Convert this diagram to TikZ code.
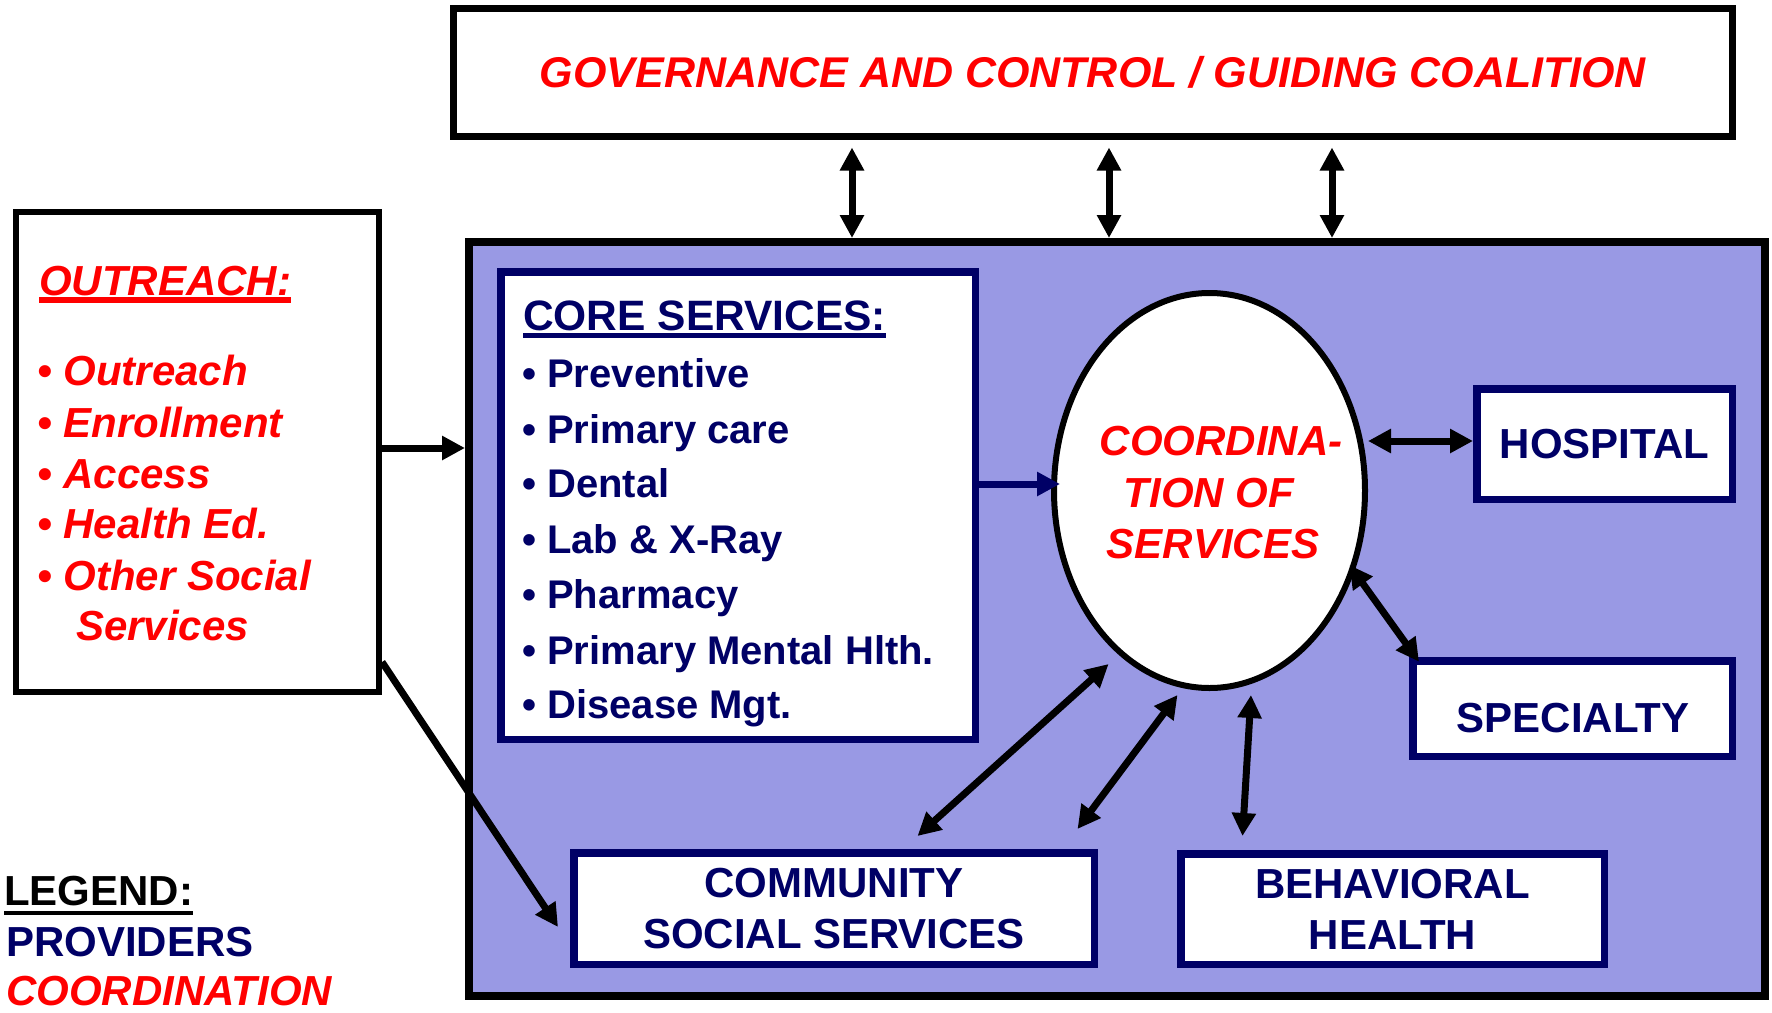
\documentclass[tikz,border=0pt]{standalone}
\usepackage{fontspec}
\setmainfont{Liberation Sans}
\usetikzlibrary{arrows.meta,shapes.geometric}

\definecolor{navy}{RGB}{0,0,102}
\definecolor{lav}{RGB}{153,153,228}
\definecolor{hred}{RGB}{255,0,0}

% text with a heavy underline: #1 rule offset, #2 rule thickness, #3 text
\newcommand\ulined[3]{\setbox0=\hbox{#3}\rlap{\rule[#1]{\wd0}{#2}}\box0}
\newcommand\bigbf{\bfseries\fontsize{42}{51}\selectfont}
\newcommand\bigit{\bfseries\itshape\fontsize{42}{51}\selectfont}

\begin{document}
\begin{tikzpicture}[x=1pt,y=-1pt,
  outline/.style={draw=black,line width=7pt,fill=white,inner sep=0pt},
  prov/.style={draw=navy,line width=7.5pt,fill=white,inner sep=0pt,text=navy,align=center,font=\bigbf},
  txt/.style={inner sep=0pt,anchor=base west},
  ctxt/.style={inner sep=0pt,anchor=base},
  dbl/.style={{Triangle[length=23pt,width=23pt]}-{Triangle[length=23pt,width=23pt]},line width=7pt},
  one/.style={-{Triangle[length=23pt,width=23pt]},line width=7pt},
]
\useasboundingbox (0,0) rectangle (1772,1012);
\fill[white] (0,0) rectangle (1772,1012);

% governing body
\node[outline,minimum width=1279pt,minimum height=128pt,text=hred,
      font=\bfseries\itshape\fontsize{43}{51}\selectfont] (gov) at (1093,72.5)
      {GOVERNANCE AND CONTROL / GUIDING COALITION};

% service network
\node[draw=black,line width=8pt,fill=lav,minimum width=1296pt,minimum height=754pt,inner sep=0pt] (main) at (1117,619) {};

% outreach panel
\node[outline,line width=6pt,minimum width=363pt,minimum height=480pt] (out) at (197.5,452) {};
\node[txt,text=hred,font=\bigit] (ohead) at (39,295) {\ulined{-8pt}{6pt}{OUTREACH:}};
\foreach \t/\y [count=\i] in {Outreach/385,Enrollment/437,Access/488,Health Ed./538,Other Social/590}
  \node[txt,text=hred,font=\bigit] (oi\i) at (37,\y) {• \t};
\node[txt,text=hred,font=\bigit] (oi6) at (76,640) {Services};

% core services
\node[prov,minimum width=474.5pt,minimum height=467.5pt] (core) at (738,505.5) {};
\node[txt,text=navy,font=\bfseries\fontsize{42.5}{51}\selectfont] (chead) at (523,330)
  {\ulined{-8pt}{5pt}{CORE SERVICES:}};
\foreach \t/\y [count=\i] in {Preventive/387,Primary care/443,Dental/497,Lab \& X-Ray/553,
    Pharmacy/608,Primary Mental Hlth./664,Disease Mgt./718}
  \node[txt,text=navy,font=\bfseries\fontsize{40}{51}\selectfont] (ci\i) at (522,\y) {• \t};

% coordination hub
\node[ellipse,draw=black,line width=6pt,fill=white,minimum width=311pt,minimum height=395pt,inner sep=0pt] (ell) at (1209.5,490.5) {};
\node[ctxt,text=hred,font=\bigit] (e1) at (1221,455) {COORDINA-};
\node[ctxt,text=hred,font=\bigit] (e2) at (1209,507) {TION OF};
\node[ctxt,text=hred,font=\bigit] (e3) at (1213,558) {SERVICES};

% providers
\node[prov,minimum width=255.5pt,minimum height=110.5pt] (hosp) at (1604.5,444) {HOSPITAL};
\node[prov,minimum width=319.5pt,minimum height=95.5pt] (spec) at (1572.5,708.5) {};
\node[ctxt,text=navy,font=\bigbf] (spectxt) at (1573,732) {SPECIALTY};
\node[prov,minimum width=520.5pt,minimum height=111.5pt] (comm) at (834,908.5) {COMMUNITY\\SOCIAL SERVICES};
\node[prov,minimum width=423.5pt,minimum height=110.5pt] (beh) at (1392.5,909) {BEHAVIORAL\\HEALTH};

% legend
\node[txt,font=\bigbf] (leg) at (4,905) {\ulined{-10pt}{4pt}{LEGEND:}};
\node[txt,text=navy,font=\bigbf] (legp) at (6,956) {PROVIDERS};
\node[txt,text=hred,font=\bigit] (legc) at (6,1005) {COORDINATION};

% governance links
\coordinate (g1) at (852,0);
\coordinate (g2) at (1109,0);
\coordinate (g3) at (1332,0);
\foreach \g in {g1,g2,g3}
  \draw[dbl,shorten <=7.5pt] (gov.south -| \g) -- (main.north -| \g);

% outreach links
\coordinate (oy) at (0,448);
\draw[one] (out.east |- oy) -- (main.west |- oy);
\coordinate (oc) at (0,662);
\coordinate (occ) at ([shift={(-12,18.5)}]comm.west);
\draw[one] (out.east |- oc) -- (occ);

% core services to coordination
\coordinate (ct) at ([shift={(-149.5,-6.5)}]ell.center);
\draw[one,color=navy] (core.east |- ct) -- (ct);

% coordination links
\coordinate (ht) at ([shift={(158.5,-49.5)}]ell.center);
\draw[dbl] (ht) -- (hosp.west |- ht);
\coordinate (st) at ([shift={(140,74.5)}]ell.center);
\draw[dbl] (st) -- ([shift={(10,4.7)}]spec.north west);
\coordinate (c1a) at ([shift={(-100.9,173.5)}]ell.center);
\coordinate (c1b) at ([shift={(83.5,-13)}]comm.north);
\draw[dbl] (c1a) -- (c1b);
\coordinate (c2a) at ([shift={(-32,204.5)}]ell.center);
\coordinate (c2b) at ([shift={(243.5,-20)}]comm.north);
\draw[dbl] (c2a) -- (c2b);
\coordinate (bt) at ([shift={(41.5,204.5)}]ell.center);
\coordinate (bb) at ([shift={(-150,-14)}]beh.north);
\draw[dbl] (bt) -- (bb);
\end{tikzpicture}
\end{document}
